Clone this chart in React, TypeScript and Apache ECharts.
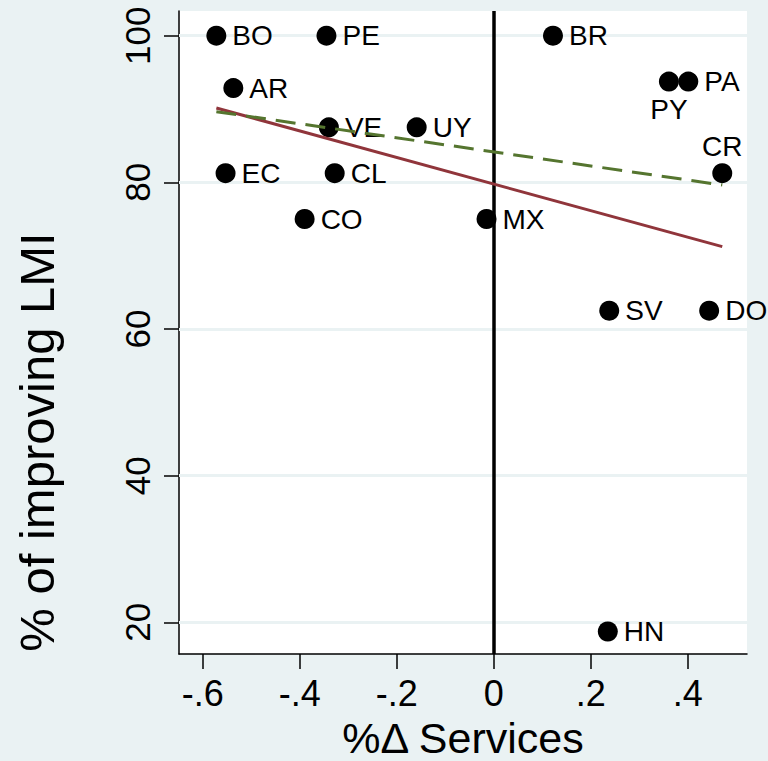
import React, { useEffect, useRef } from "react";
import * as echarts from "echarts";

const countries = ["BO", "PE", "BR", "AR", "PY", "PA", "VE", "UY", "CR", "EC", "CL", "CO", "MX", "SV", "DO", "HN"];
const servicesChange = [-0.572, -0.345, 0.122, -0.537, 0.361, 0.401, -0.34, -0.159, 0.471, -0.553, -0.328, -0.39, -0.015, 0.238, 0.444, 0.235];
const improvingLMI = [100, 100, 100, 92.86, 93.75, 93.75, 87.5, 87.5, 81.25, 81.25, 81.25, 75, 75, 62.5, 62.5, 18.75];

const fitAllX = [-0.572, 0.471];
const fitAllY = [90.14, 71.23];
const fitDashX = [-0.572, 0.471];
const fitDashY = [89.64, 79.64];

const xTicks = [-0.6, -0.4, -0.2, 0, 0.2, 0.4];
const xTickLabels = ["-.6", "-.4", "-.2", "0", ".2", ".4"];
const yTicks = [20, 40, 60, 80, 100];
const yTickLabels = ["20", "40", "60", "80", "100"];

const xTitle = "%Δ Services";
const yTitle = "% of improving LMI";

const FONT = "'Liberation Sans', Arial, Helvetica, sans-serif";
const labelPositions: Record<string, string> = { PY: "bottom", CR: "top" };

export default function App() {
  const ref = useRef<HTMLDivElement>(null);
  useEffect(() => {
    document.body.style.margin = "0";
    if (!ref.current) return;
    const chart = echarts.init(ref.current, undefined, { renderer: "svg" });
    const pts = countries.map((c, i) => ({
      name: c,
      value: [servicesChange[i], improvingLMI[i]],
      label: {
        position: labelPositions[c] || "right",
        distance: labelPositions[c] === "bottom" ? 4 : labelPositions[c] === "top" ? 3 : 6,
      },
    }));
    const findIdx = (arr: number[], v: number) => arr.findIndex((t) => Math.abs(t - v) < 1e-6);
    chart.setOption({
      animation: false,
      backgroundColor: "#eaf2f3",
      grid: {
        left: 179,
        right: 21,
        top: 11,
        bottom: 107,
        show: true,
        backgroundColor: "#ffffff",
        borderWidth: 0,
      },
      xAxis: {
        type: "value",
        min: -0.649,
        max: 0.522,
        axisLine: { show: true, onZero: false, lineStyle: { color: "#000", width: 1.5 } },
        axisTick: { show: true, length: 15, customValues: xTicks, lineStyle: { color: "#000", width: 1.5 } },
        axisLabel: {
          customValues: xTicks,
          margin: 21,
          fontSize: 36,
          fontFamily: FONT,
          color: "#000",
          formatter: (v: number) => {
            const i = findIdx(xTicks, v);
            return i >= 0 ? xTickLabels[i] : "";
          },
        },
        splitLine: { show: false },
      },
      yAxis: {
        type: "value",
        min: 15.68,
        max: 103.37,
        axisLine: { show: true, onZero: false, lineStyle: { color: "#000", width: 1.5 } },
        axisTick: { show: true, length: 15, customValues: yTicks, lineStyle: { color: "#000", width: 1.5 } },
        axisLabel: {
          customValues: yTicks,
          rotate: 90,
          margin: 24,
          fontSize: 35,
          fontFamily: FONT,
          color: "#000",
          formatter: (v: number) => {
            const i = findIdx(yTicks, v);
            return i >= 0 ? yTickLabels[i] : "";
          },
        },
        splitLine: { show: false },
      },
      graphic: [
        {
          type: "text",
          x: 463,
          y: 738,
          style: {
            text: xTitle,
            fontSize: 43,
            lineHeight: 43,
            fontFamily: FONT,
            fill: "#000",
            align: "center",
            verticalAlign: "middle",
          },
        },
        {
          type: "text",
          x: 37,
          y: 442,
          rotation: Math.PI / 2,
          style: {
            text: yTitle,
            fontSize: 49,
            fontFamily: FONT,
            fill: "#000",
            align: "center",
            verticalAlign: "middle",
          },
        },
      ],
      series: [
        {
          type: "line",
          data: [],
          z: 1,
          silent: true,
          markLine: {
            z: 1,
            silent: true,
            symbol: "none",
            label: { show: false },
            lineStyle: { color: "#eaf2f3", width: 3, type: "solid" },
            data: yTicks.map((v) => ({ yAxis: v })),
          },
        },
        {
          type: "line",
          data: [],
          z: 2,
          silent: true,
          markLine: {
            z: 2,
            silent: true,
            symbol: "none",
            label: { show: false },
            lineStyle: { color: "#000", width: 3.5, type: "solid" },
            data: [{ xAxis: 0 }],
          },
        },
        {
          type: "scatter",
          z: 3,
          symbol: "circle",
          symbolSize: 20,
          itemStyle: { color: "#000", opacity: 1 },
          label: {
            show: true,
            formatter: "{b}",
            fontSize: 28,
            fontFamily: FONT,
            color: "#000",
          },
          data: pts,
        },
        {
          type: "line",
          z: 4,
          symbol: "none",
          lineStyle: { color: "#90353b", width: 3 },
          data: fitAllX.map((x, i) => [x, fitAllY[i]]),
        },
        {
          type: "line",
          z: 5,
          symbol: "none",
          lineStyle: { color: "#55752f", width: 3, type: [20, 10] },
          data: fitDashX.map((x, i) => [x, fitDashY[i]]),
        },
      ],
    });
    return () => chart.dispose();
  }, []);
  return <div ref={ref} style={{ width: 768, height: 761 }} />;
}
